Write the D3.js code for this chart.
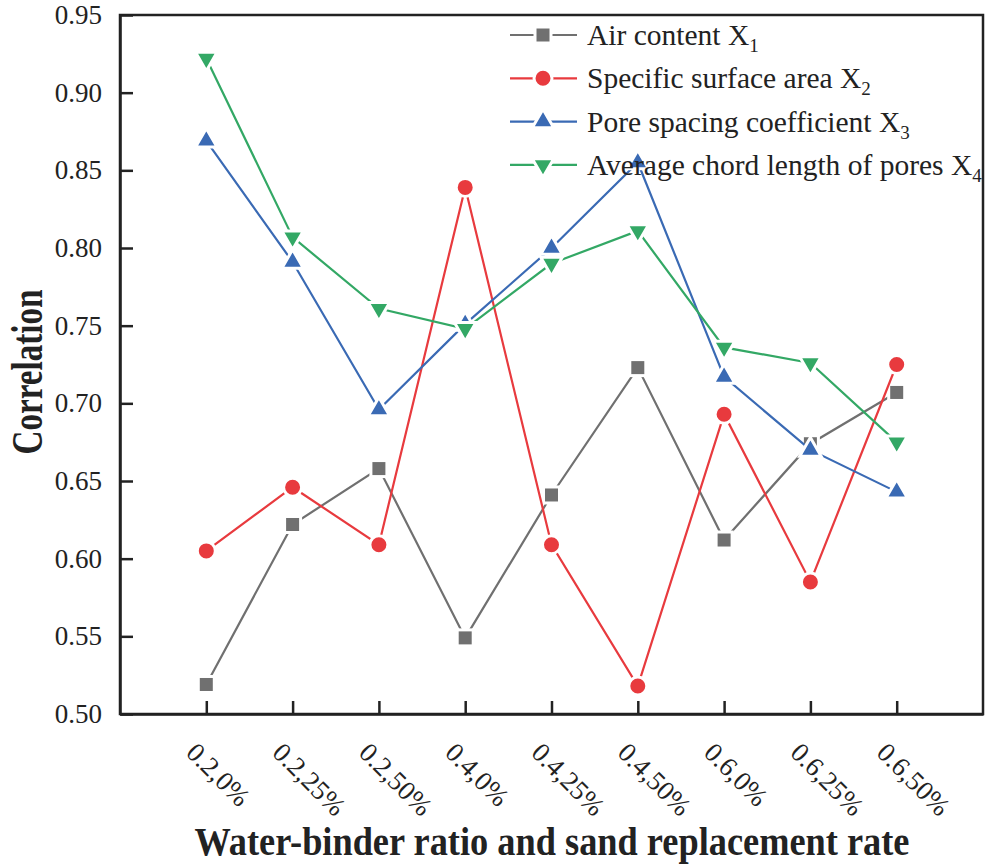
<!DOCTYPE html>
<html lang="en">
<head>
<meta charset="UTF-8">
<title>Correlation</title>
<script src="https://d3js.org/d3.v7.min.js"></script>
<style>
  body { margin: 0; background: #fff; }
  svg { font-family: "Liberation Serif", "Times New Roman", serif; }
  .tick text { font-size: 27px; fill: #222; font-family: "Liberation Serif", "Times New Roman", serif; }
</style>
</head>
<body>
<div id="chart"></div>
<script>
// data
const categories = ["0.2,0%", "0.2,25%", "0.2,50%", "0.4,0%", "0.4,25%", "0.4,50%", "0.6,0%", "0.6,25%", "0.6,50%"];
const airContent = [0.519, 0.622, 0.658, 0.549, 0.641, 0.723, 0.612, 0.674, 0.707];
const surfaceArea = [0.605, 0.646, 0.609, 0.839, 0.609, 0.518, 0.693, 0.585, 0.725];
const poreSpacing = [0.869, 0.791, 0.696, 0.751, 0.800, 0.855, 0.717, 0.670, 0.643];
const chordLength = [0.922, 0.807, 0.761, 0.748, 0.790, 0.811, 0.736, 0.726, 0.675];
const yTicks = [0.50, 0.55, 0.60, 0.65, 0.70, 0.75, 0.80, 0.85, 0.90, 0.95];

const series = [
  { name: "Air content X", sub: "1", values: airContent, color: "#707070", shape: "square" },
  { name: "Specific surface area X", sub: "2", values: surfaceArea, color: "#e83a3e", shape: "circle" },
  { name: "Pore spacing coefficient X", sub: "3", values: poreSpacing, color: "#3a6ab4", shape: "up" },
  { name: "Average chord length of pores X", sub: "4", values: chordLength, color: "#33a865", shape: "down" }
];

const width = 986, height = 867;
const plotLeft = 120, plotRight = 983, plotTop = 15, plotBottom = 714;
const serif = "'Liberation Serif', 'Times New Roman', serif";

const svg = d3.select("#chart").append("svg")
  .attr("width", width)
  .attr("height", height);

const x = d3.scalePoint().domain(categories).range([plotLeft, plotRight]).padding(1);
const y = d3.scaleLinear().domain([0.50, 0.95]).range([plotBottom, plotTop]);

// frame
svg.append("rect")
  .attr("x", plotLeft).attr("y", plotTop)
  .attr("width", plotRight - plotLeft).attr("height", plotBottom - plotTop)
  .attr("fill", "none").attr("stroke", "#222").attr("stroke-width", 2.5);

// x axis, ticks inside
const xAxis = svg.append("g")
  .attr("transform", `translate(0,${plotBottom})`)
  .call(d3.axisBottom(x).tickSizeInner(-13).tickSizeOuter(0));
xAxis.attr("font-family", serif).attr("font-size", 27);
xAxis.select(".domain").attr("stroke", "#222").attr("stroke-width", 2.5);
xAxis.selectAll(".tick line").attr("stroke", "#222").attr("stroke-width", 2.5);
xAxis.selectAll(".tick text")
  .attr("text-anchor", "start")
  .attr("dy", null)
  .attr("y", 0)
  .attr("transform", "translate(-22,40) rotate(45)");

// y axis, ticks inside
const yAxis = svg.append("g")
  .attr("transform", `translate(${plotLeft},0)`)
  .call(d3.axisLeft(y).tickValues(yTicks).tickFormat(d3.format(".2f")).tickSizeInner(-13).tickSizeOuter(0).tickPadding(18));
yAxis.attr("font-family", serif).attr("font-size", 27);
yAxis.select(".domain").attr("stroke", "#222").attr("stroke-width", 2.5);
yAxis.selectAll(".tick line").attr("stroke", "#222").attr("stroke-width", 2.5);

// axis titles
svg.append("text")
  .attr("x", 552).attr("y", 855)
  .attr("text-anchor", "middle")
  .attr("font-weight", "bold")
  .attr("font-size", 40)
  .attr("fill", "#222")
  .attr("textLength", 715)
  .attr("lengthAdjust", "spacingAndGlyphs")
  .text("Water-binder ratio and sand replacement rate");

svg.append("text")
  .attr("transform", "translate(42,372) rotate(-90)")
  .attr("text-anchor", "middle")
  .attr("font-weight", "bold")
  .attr("font-size", 44)
  .attr("fill", "#222")
  .attr("textLength", 165)
  .attr("lengthAdjust", "spacingAndGlyphs")
  .text("Correlation");

function drawMarker(g, shape, color, cx, cy) {
  let m;
  if (shape === "square") {
    m = g.append("rect").attr("x", cx - 8).attr("y", cy - 8).attr("width", 16).attr("height", 16);
  } else if (shape === "circle") {
    m = g.append("circle").attr("cx", cx).attr("cy", cy).attr("r", 9);
  } else {
    m = g.append("path")
      .attr("d", d3.symbol(d3.symbolTriangle, 200)())
      .attr("transform", `translate(${cx},${cy})` + (shape === "down" ? " rotate(180)" : ""));
  }
  m.attr("fill", color).attr("stroke", "#fff").attr("stroke-width", 3);
}

const line = d3.line().x((d, i) => x(categories[i])).y(d => y(d));

series.forEach(s => {
  const g = svg.append("g");
  g.append("path")
    .datum(s.values)
    .attr("d", line)
    .attr("fill", "none")
    .attr("stroke", s.color)
    .attr("stroke-width", 2.2);
  s.values.forEach((v, i) => drawMarker(g, s.shape, s.color, x(categories[i]), y(v)));
});

// legend
const legend = svg.append("g");
series.forEach((s, i) => {
  const cy = 35 + i * 43.3;
  legend.append("line")
    .attr("x1", 510).attr("x2", 577)
    .attr("y1", cy).attr("y2", cy)
    .attr("stroke", s.color).attr("stroke-width", 2.2);
  drawMarker(legend, s.shape, s.color, 543, cy);
  const t = legend.append("text")
    .attr("x", 587).attr("y", cy + 10)
    .attr("font-size", 29.5)
    .attr("fill", "#222")
    .text(s.name);
  t.append("tspan").attr("font-size", 19).attr("dy", 7).text(s.sub);
});
</script>
</body>
</html>
